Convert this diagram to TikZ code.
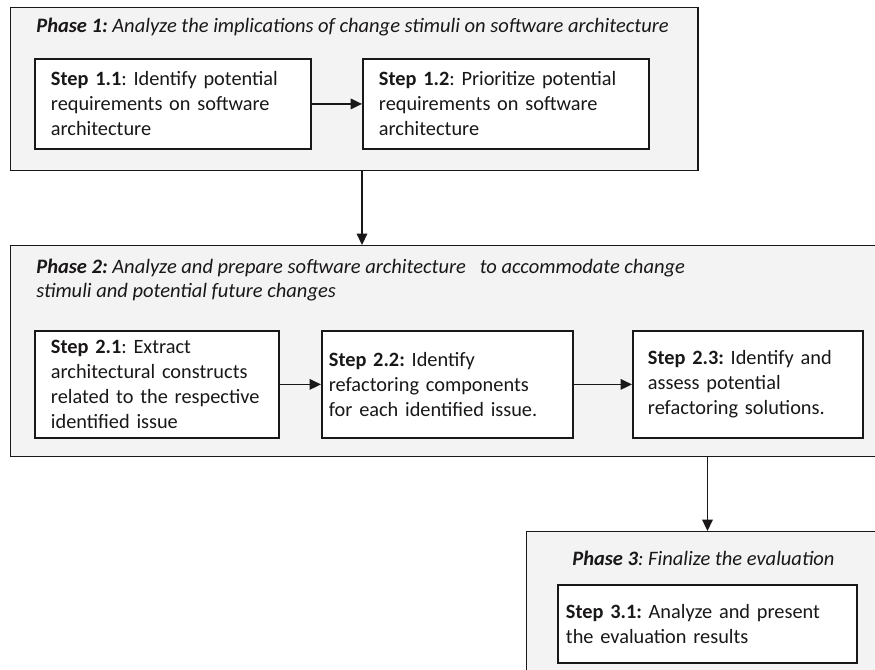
\documentclass[tikz,border=0pt]{standalone}
\usepackage{fontspec}
\setmainfont{Carlito}
\usetikzlibrary{arrows.meta}
\definecolor{phasefill}{HTML}{F3F3F3}
\definecolor{ink}{HTML}{1A1718}
\frenchspacing
\begin{document}
\begin{tikzpicture}[x=0.573pt,y=-0.573pt,
  every node/.style={text=ink},
  phasebox/.style={draw=ink, fill=phasefill, line width=0.85pt, anchor=north west, inner sep=0pt},
  stepbox/.style={draw=ink, fill=white, line width=1.05pt, anchor=north west, align=left,
    inner ysep=0pt, font=\fontsize{11.65}{14.3}\selectfont},
  phasetitle/.style={anchor=base west, inner sep=0pt, align=left,
    font=\fontsize{11.75}{14.3}\selectfont\itshape},
  arr/.style={draw=ink, line width=0.95pt, -{Triangle[length=6.5pt,width=6pt]}}]
\clip (0,0) rectangle (875,670);

% Phase 1
\node[phasebox, minimum width=393.7pt, minimum height=93.4pt] (p1) at (10,7) {};
\node[phasetitle] (t1) at (36,33) {\textbf{Phase 1:} Analyze the implications of change stimuli on software architecture};
\node[stepbox, text width=139.8pt, inner xsep=9.17pt, minimum height=51.6pt] (s11) at (34,58)
  {\textbf{Step 1.1}: Identify potential\\requirements on software\\architecture};
\node[stepbox, text width=145.5pt, inner xsep=9.17pt, minimum height=51.6pt] (s12) at (362,58)
  {\textbf{Step 1.2}: Prioritize potential\\requirements on software\\architecture};

% Phase 2 (title anchored on the baseline of its second line)
\node[phasebox, minimum width=498.5pt, minimum height=120.9pt] (p2) at (10,245) {};
\node[phasetitle] (t2) at (36,298) {\textbf{Phase 2:} Analyze and prepare software architecture \ \ to accommodate change\\stimuli and potential future changes};
\node[stepbox, text width=121.5pt, inner xsep=9.17pt, minimum height=61.3pt] (s21) at (34,330)
  {\textbf{Step 2.1}: Extract\\architectural constructs\\related to the respective\\identified issue};
\node[stepbox, text width=135.8pt, inner xsep=4pt, minimum height=61.3pt] (s22) at (321,330)
  {\textbf{Step 2.2:} Identify\\refactoring components\\for each identified issue.};
\node[stepbox, text width=114.6pt, inner xsep=8.6pt, minimum height=61.3pt] (s23) at (632,330)
  {\textbf{Step 2.3:} Identify and\\assess potential\\refactoring solutions.};

% Phase 3
\node[phasebox, minimum width=205.7pt, minimum height=91.1pt] (p3) at (526,531) {};
\node[phasetitle] (t3) at (572,565) {\textbf{Phase 3}: Finalize the evaluation};
\node[stepbox, text width=162.2pt, inner xsep=4.6pt, minimum height=44.7pt] (s31) at (557,584)
  {\textbf{Step 3.1:} Analyze and present\\the evaluation results};

% Connectors
\draw[arr] (s11.east) -- (s12.west);
\draw[arr] (s12.west |- p1.south) -- (s12.west |- p2.north);
\draw[arr] (s21.east) -- (s22.west);
\draw[arr] (s22.east) -- (s23.west);
\draw[arr] (s31.north |- p2.south) -- (s31.north |- p3.north);
\end{tikzpicture}
\end{document}
